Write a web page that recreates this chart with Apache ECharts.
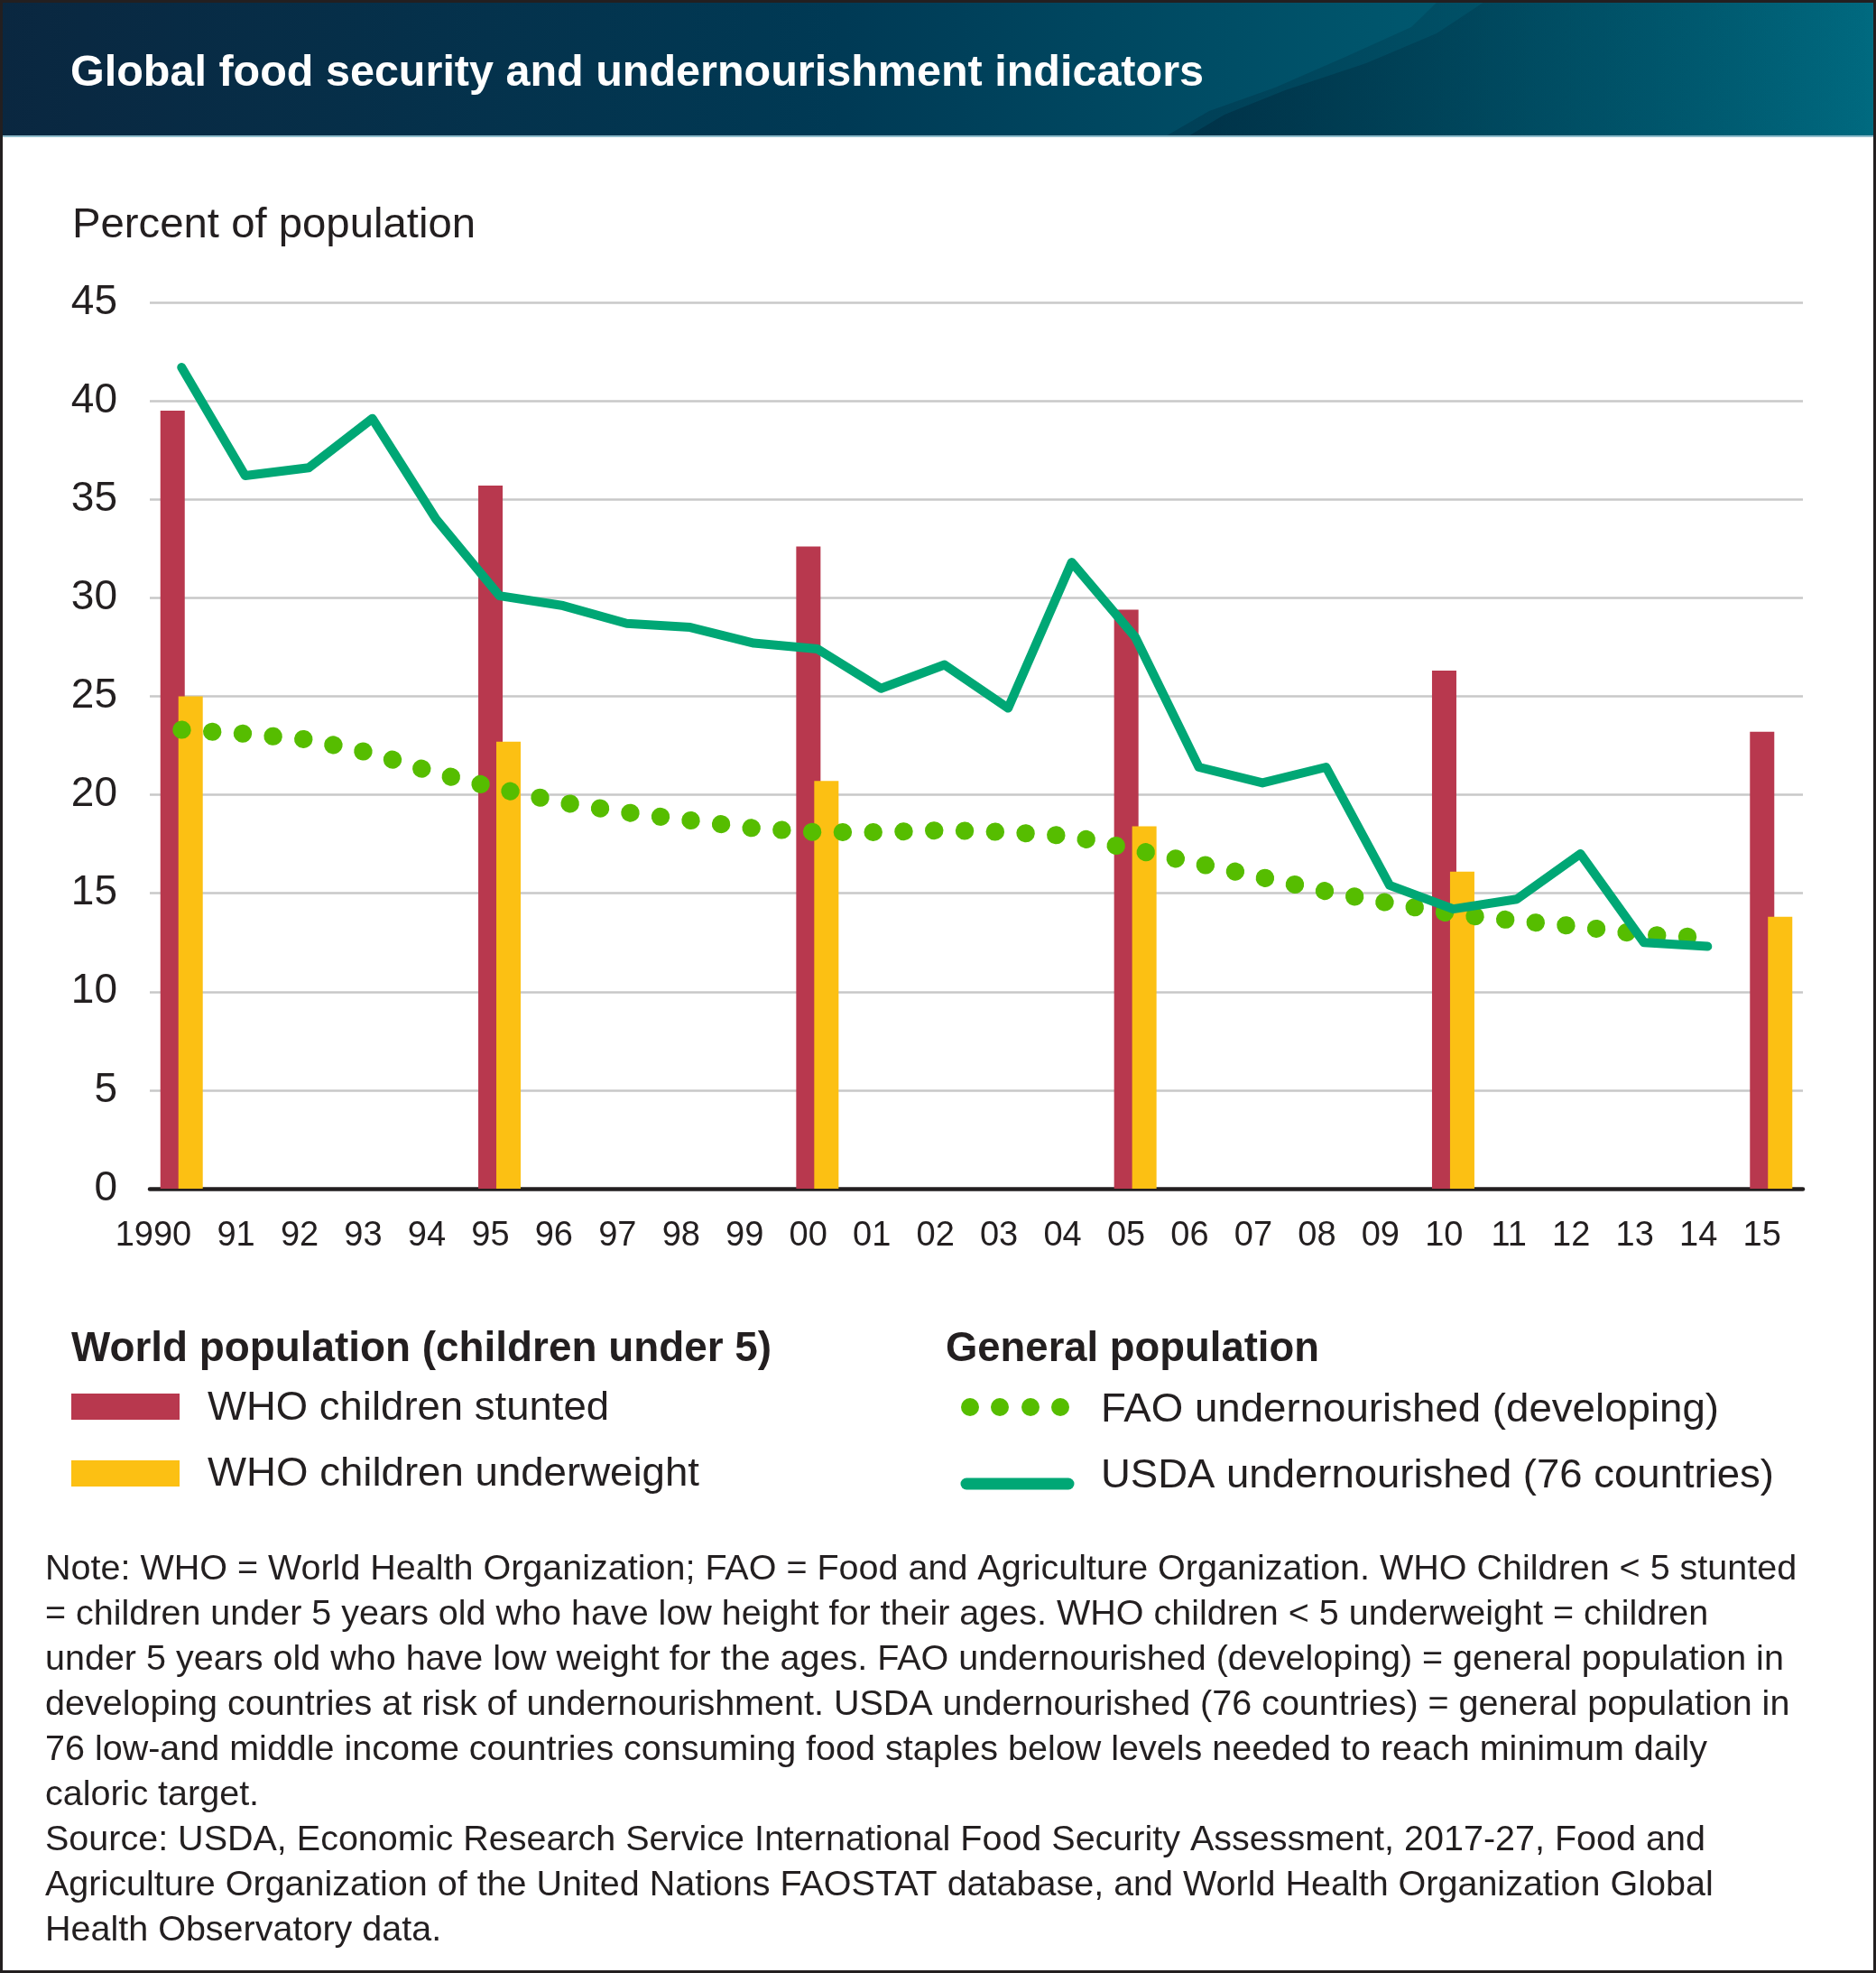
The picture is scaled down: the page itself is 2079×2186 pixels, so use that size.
<!DOCTYPE html>
<html lang="en">
<head>
  <meta charset="utf-8"/>
  <title>Global food security and undernourishment indicators</title>
  <script src="https://cdn.jsdelivr.net/npm/echarts@6/dist/echarts.min.js"></script>
  <style>
    html, body { margin: 0; padding: 0; background: #fff; }
  </style>
</head>
<body>
<div id="main" style="width: 2079px;height: 2186px"></div>
<script type="text/javascript">
  // categories and values
  var years = ['1990', '91', '92', '93', '94', '95', '96', '97', '98', '99', '00', '01', '02',
    '03', '04', '05', '06', '07', '08', '09', '10', '11', '12', '13', '14', '15'];
  var whoYears = ['1990', '95', '00', '05', '10', '15'];
  var stunted = [39.5, 35.7, 32.6, 29.4, 26.3, 23.2];
  var underweight = [25.0, 22.7, 20.7, 18.4, 16.1, 13.8];
  // 1990-2014
  var faoUnder = [23.3, 23.1, 22.8, 22.1, 21.1, 20.3, 19.6, 19.1, 18.7, 18.3, 18.1, 18.1, 18.2,
    18.1, 17.9, 17.2, 16.5, 15.8, 15.1, 14.5, 13.95, 13.6, 13.3, 12.9, 12.75];
  var usdaUnder = [41.7, 36.2, 36.6, 39.1, 34.0, 30.1, 29.6, 28.7, 28.5, 27.7, 27.4, 25.4, 26.6,
    24.4, 31.8, 28.0, 21.4, 20.6, 21.4, 15.4, 14.2, 14.7, 17.0, 12.5, 12.3];
  var yTicks = [0, 45, 5]; // min, max, step

  var noteLines = [
    'Note: WHO = World Health Organization; FAO = Food and Agriculture Organization. WHO Children < 5 stunted',
    '= children under 5 years old who have low height for their ages. WHO children < 5 underweight = children',
    'under 5 years old who have low weight for the ages. FAO undernourished (developing) = general population in',
    'developing countries at risk of undernourishment. USDA undernourished (76 countries) = general population in',
    '76 low-and middle income countries consuming food staples below levels needed to reach minimum daily',
    'caloric target.',
    'Source: USDA, Economic Research Service International Food Security Assessment, 2017-27, Food and',
    'Agriculture Organization of the United Nations FAOSTAT database, and World Health Organization Global',
    'Health Observatory data.'
  ];

  var RED = '#B8384E', YELLOW = '#FCC013', GREEN_DOT = '#56BD00', GREEN = '#00A775', INK = '#231F20';
  var FAMILY = '"Liberation Sans", Arial, Helvetica, sans-serif';

  // measure text so the captions keep the widths of the original
  var mctx = document.createElement('canvas').getContext('2d');
  function textWidth(str, font) {
    mctx.font = font;
    return mctx.measureText(str).width;
  }
  function caption(str, x, y, size, weight, target, color) {
    var font = weight + ' ' + size + 'px ' + FAMILY;
    var sx = target ? target / textWidth(str, font) : 1;
    return {
      type: 'text', x: x, y: y + 3, scaleX: sx,
      style: { text: str, font: font, fill: color || INK, verticalAlign: 'middle' }
    };
  }

  var noteSize = 36 * 1939 / textWidth(noteLines[0], 'normal 36px ' + FAMILY);

  var myChart = echarts.init(document.getElementById('main'));

  myChart.setOption({
    animation: false,
    backgroundColor: '#fff',
    grid: { left: 166, right: 81, top: 335, bottom: 869 },
    xAxis: {
      type: 'category',
      data: years,
      axisTick: { show: false },
      axisLine: { lineStyle: { color: INK, width: 4.5 } },
      axisLabel: {
        color: INK,
        fontSize: 38,
        fontFamily: FAMILY,
        margin: 34,
        align: 'right',
        padding: [0, -11, 0, 0],
        interval: 0
      }
    },
    yAxis: {
      type: 'value',
      min: yTicks[0],
      max: yTicks[1],
      interval: yTicks[2],
      axisLine: { show: false },
      axisTick: { show: false },
      axisLabel: { color: INK, fontSize: 46, fontFamily: FAMILY, margin: 36 },
      splitLine: { lineStyle: { color: '#C8C8C8', width: 2.5 } }
    },
    series: [
      {
        name: 'WHO children stunted',
        type: 'bar',
        barWidth: 27,
        barGap: '-26%',
        itemStyle: { color: RED },
        data: whoYears.map(function (y, i) { return [y, stunted[i]]; })
      },
      {
        name: 'WHO children underweight',
        type: 'bar',
        barWidth: 27,
        itemStyle: { color: YELLOW },
        data: whoYears.map(function (y, i) { return [y, underweight[i]]; })
      },
      {
        name: 'FAO undernourished (developing)',
        type: 'line',
        showSymbol: false,
        z: 3,
        lineStyle: { color: GREEN_DOT, width: 20, type: [0.5, 33.3], cap: 'round' },
        data: faoUnder
      },
      {
        name: 'USDA undernourished (76 countries)',
        type: 'line',
        showSymbol: false,
        z: 4,
        lineStyle: { color: GREEN, width: 10, cap: 'round', join: 'round' },
        data: usdaUnder
      }
    ],
    graphic: [
      // header band
      {
        type: 'rect', shape: { x: 0, y: 0, width: 2079, height: 152 },
        style: {
          fill: {
            type: 'linear', x: 0, y: 0, x2: 1, y2: 0,
            colorStops: [
              { offset: 0, color: '#0A2740' },
              { offset: 0.45, color: '#003A55' },
              { offset: 0.72, color: '#00546B' },
              { offset: 1, color: '#006A80' }
            ]
          }
        }
      },
      {
        type: 'polygon',
        shape: { points: [[1595, 0], [1564, 30], [1491, 63], [1413, 97], [1340, 123], [1290, 152], [2079, 152], [2079, 0]] },
        style: {
          fill: {
            type: 'linear', x: 0, y: 0, x2: 1, y2: 0,
            colorStops: [
              { offset: 0, color: 'rgba(0,35,55,0.3)' },
              { offset: 0.6, color: 'rgba(0,35,55,0.12)' },
              { offset: 1, color: 'rgba(0,35,55,0)' }
            ]
          }
        }
      },
      {
        type: 'polygon',
        shape: { points: [[1648, 0], [1592, 37], [1514, 70], [1424, 100], [1357, 127], [1315, 152], [2079, 152], [2079, 0]] },
        style: {
          fill: {
            type: 'linear', x: 0, y: 0, x2: 1, y2: 0,
            colorStops: [
              { offset: 0, color: 'rgba(0,30,50,0.4)' },
              { offset: 0.5, color: 'rgba(0,30,50,0.15)' },
              { offset: 1, color: 'rgba(0,30,50,0)' }
            ]
          }
        }
      },
      { type: 'rect', shape: { x: 0, y: 150, width: 2079, height: 2 }, style: { fill: '#8FBCCB' } },
      caption('Global food security and undernourishment indicators', 78, 78, 49, 'bold', 1256, '#FFFFFF'),

      // axis title
      caption('Percent of population', 80, 247, 46, 'normal', 447),

      // legend, left column
      caption('World population (children under 5)', 79, 1492, 46, 'bold', 776),
      { type: 'rect', shape: { x: 79, y: 1544, width: 120, height: 29 }, style: { fill: RED } },
      caption('WHO children stunted', 230, 1558, 45, 'normal', 445),
      { type: 'rect', shape: { x: 79, y: 1618, width: 120, height: 29 }, style: { fill: YELLOW } },
      caption('WHO children underweight', 230, 1631, 45, 'normal', 545),

      // legend, right column
      caption('General population', 1048, 1492, 46, 'bold', 414),
      { type: 'circle', shape: { cx: 1075, cy: 1559, r: 10 }, style: { fill: GREEN_DOT } },
      { type: 'circle', shape: { cx: 1108, cy: 1559, r: 10 }, style: { fill: GREEN_DOT } },
      { type: 'circle', shape: { cx: 1142, cy: 1559, r: 10 }, style: { fill: GREEN_DOT } },
      { type: 'circle', shape: { cx: 1175, cy: 1559, r: 10 }, style: { fill: GREEN_DOT } },
      caption('FAO undernourished (developing)', 1220, 1560, 45, 'normal', 685),
      {
        type: 'line', shape: { x1: 1071, y1: 1644, x2: 1184, y2: 1644 },
        style: { stroke: GREEN, lineWidth: 13, lineCap: 'round' }
      },
      caption('USDA undernourished (76 countries)', 1220, 1633, 45, 'normal', 746),

      // note and source
      {
        type: 'text', x: 50, y: 1714,
        style: {
          text: noteLines.join('\n'),
          font: 'normal ' + noteSize.toFixed(1) + 'px ' + FAMILY,
          lineHeight: 50,
          fill: INK,
          verticalAlign: 'top'
        }
      },

      // frame
      {
        type: 'rect', shape: { x: 1.5, y: 1.5, width: 2076, height: 2183 },
        style: { fill: null, stroke: INK, lineWidth: 3 }, z: 100
      }
    ]
  });
</script>
</body>
</html>
